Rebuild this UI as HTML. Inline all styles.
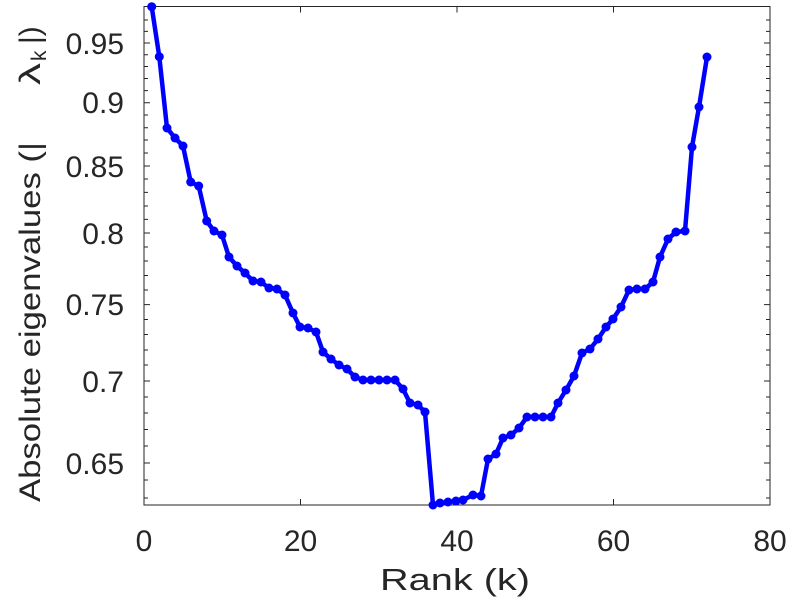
<!DOCTYPE html>
<html><head><meta charset="utf-8"><style>html,body{margin:0;padding:0;background:#fff}svg{display:block}</style></head><body>
<svg width="790" height="600" viewBox="0 0 790 600" xmlns="http://www.w3.org/2000/svg" font-family="Liberation Sans, sans-serif" fill="#262626">
<rect x="0" y="0" width="790" height="600" fill="#fff"/>
<g stroke="#262626" stroke-width="1" fill="none">
<rect x="144" y="6.5" width="626" height="498.5"/>
<path d="M144,498 h4 M144,480 h4 M144,463 h6 M144,446 h4 M144,429.5 h4 M144,413 h4 M144,397 h4 M144,381 h6 M144,365 h4 M144,350 h4 M144,334.5 h4 M144,319.5 h4 M144,304.6 h6 M144,290 h4 M144,275.5 h4 M144,261 h4 M144,247 h4 M144,233 h6 M144,219.4 h4 M144,206 h4 M144,192.4 h4 M144,179 h4 M144,166 h6 M144,153 h4 M144,140 h4 M144,127.7 h4 M144,115 h4 M144,102.8 h6 M144,90.6 h4 M144,78.5 h4 M144,66.5 h4 M144,54.7 h4 M144,43 h6 M144,31.4 h4 M144,20 h4"/>
<path d="M770,498 h-4 M770,480 h-4 M770,463 h-6 M770,446 h-4 M770,429.5 h-4 M770,413 h-4 M770,397 h-4 M770,381 h-6 M770,365 h-4 M770,350 h-4 M770,334.5 h-4 M770,319.5 h-4 M770,304.6 h-6 M770,290 h-4 M770,275.5 h-4 M770,261 h-4 M770,247 h-4 M770,233 h-6 M770,219.4 h-4 M770,206 h-4 M770,192.4 h-4 M770,179 h-4 M770,166 h-6 M770,153 h-4 M770,140 h-4 M770,127.7 h-4 M770,115 h-4 M770,102.8 h-6 M770,90.6 h-4 M770,78.5 h-4 M770,66.5 h-4 M770,54.7 h-4 M770,43 h-6 M770,31.4 h-4 M770,20 h-4"/>
<path d="M300.5,505 v-6 M457,505 v-6 M613.5,505 v-6 M300.5,6.5 v6 M457,6.5 v6 M613.5,6.5 v6"/>
</g>
<g font-size="30" text-anchor="end">
<text x="124" y="474">0.65</text>
<text x="124" y="392">0.7</text>
<text x="124" y="315">0.75</text>
<text x="124" y="244">0.8</text>
<text x="124" y="177">0.85</text>
<text x="124" y="113">0.9</text>
<text x="124" y="54">0.95</text>
</g>
<g font-size="30" text-anchor="middle">
<text x="144" y="551">0</text>
<text x="300.5" y="551">20</text>
<text x="457" y="551">40</text>
<text x="613.5" y="551">60</text>
<text x="770" y="551">80</text>
</g>
<text x="380" y="590" font-size="31" textLength="150" lengthAdjust="spacingAndGlyphs">Rank (k)</text>
<g transform="translate(40,502) rotate(-90)" font-size="30">
<text x="0" y="0" textLength="360" lengthAdjust="spacingAndGlyphs">Absolute eigenvalues (|</text>
<text x="417" y="0" textLength="22" lengthAdjust="spacingAndGlyphs">λ</text>
<text x="441" y="6" font-size="21">k</text>
<text x="458" y="0">|)</text>
</g>
<polyline fill="none" stroke="#0000ff" stroke-width="4.5" stroke-linejoin="round" points="151.7,6.7 159.3,56.7 167,128 175,138 183,146 190.7,182 198.7,186 206.7,221 214,231 222,235 229,257 237,266 245,273 253,281 261,282 269,288 277,289 285,295 293,313 300,327 308,328 316,332 323,352 331,359 339,365 347,369 355,377 363,380 371,380 379,380 387,380 395,380 403,389 410,403 418,405 425,412 433,505 440,503 448,502 456,501 463,500 473,495 481,496 488,459 496,454 503,438 511,435 519,428 527,417 535,417 543,417 551,417 558,403 566,390 574,376 582,353 590,349 598,339 606,327 613,319 621,307 629,290 637,289 645,289 653,282 660,257 668,239 676,232 685,231 692,147 699,107 707,57"/>
<g fill="#0000ff">
<circle cx="151.7" cy="6.7" r="4.5"/><circle cx="159.3" cy="56.7" r="4.5"/><circle cx="167" cy="128" r="4.5"/><circle cx="175" cy="138" r="4.5"/><circle cx="183" cy="146" r="4.5"/><circle cx="190.7" cy="182" r="4.5"/><circle cx="198.7" cy="186" r="4.5"/><circle cx="206.7" cy="221" r="4.5"/><circle cx="214" cy="231" r="4.5"/><circle cx="222" cy="235" r="4.5"/><circle cx="229" cy="257" r="4.5"/><circle cx="237" cy="266" r="4.5"/><circle cx="245" cy="273" r="4.5"/><circle cx="253" cy="281" r="4.5"/><circle cx="261" cy="282" r="4.5"/><circle cx="269" cy="288" r="4.5"/><circle cx="277" cy="289" r="4.5"/><circle cx="285" cy="295" r="4.5"/><circle cx="293" cy="313" r="4.5"/><circle cx="300" cy="327" r="4.5"/><circle cx="308" cy="328" r="4.5"/><circle cx="316" cy="332" r="4.5"/><circle cx="323" cy="352" r="4.5"/><circle cx="331" cy="359" r="4.5"/><circle cx="339" cy="365" r="4.5"/><circle cx="347" cy="369" r="4.5"/><circle cx="355" cy="377" r="4.5"/><circle cx="363" cy="380" r="4.5"/><circle cx="371" cy="380" r="4.5"/><circle cx="379" cy="380" r="4.5"/><circle cx="387" cy="380" r="4.5"/><circle cx="395" cy="380" r="4.5"/><circle cx="403" cy="389" r="4.5"/><circle cx="410" cy="403" r="4.5"/><circle cx="418" cy="405" r="4.5"/><circle cx="425" cy="412" r="4.5"/><circle cx="433" cy="505" r="4.5"/><circle cx="440" cy="503" r="4.5"/><circle cx="448" cy="502" r="4.5"/><circle cx="456" cy="501" r="4.5"/><circle cx="463" cy="500" r="4.5"/><circle cx="473" cy="495" r="4.5"/><circle cx="481" cy="496" r="4.5"/><circle cx="488" cy="459" r="4.5"/><circle cx="496" cy="454" r="4.5"/><circle cx="503" cy="438" r="4.5"/><circle cx="511" cy="435" r="4.5"/><circle cx="519" cy="428" r="4.5"/><circle cx="527" cy="417" r="4.5"/><circle cx="535" cy="417" r="4.5"/><circle cx="543" cy="417" r="4.5"/><circle cx="551" cy="417" r="4.5"/><circle cx="558" cy="403" r="4.5"/><circle cx="566" cy="390" r="4.5"/><circle cx="574" cy="376" r="4.5"/><circle cx="582" cy="353" r="4.5"/><circle cx="590" cy="349" r="4.5"/><circle cx="598" cy="339" r="4.5"/><circle cx="606" cy="327" r="4.5"/><circle cx="613" cy="319" r="4.5"/><circle cx="621" cy="307" r="4.5"/><circle cx="629" cy="290" r="4.5"/><circle cx="637" cy="289" r="4.5"/><circle cx="645" cy="289" r="4.5"/><circle cx="653" cy="282" r="4.5"/><circle cx="660" cy="257" r="4.5"/><circle cx="668" cy="239" r="4.5"/><circle cx="676" cy="232" r="4.5"/><circle cx="685" cy="231" r="4.5"/><circle cx="692" cy="147" r="4.5"/><circle cx="699" cy="107" r="4.5"/><circle cx="707" cy="57" r="4.5"/>
</g>
</svg>
</body></html>
